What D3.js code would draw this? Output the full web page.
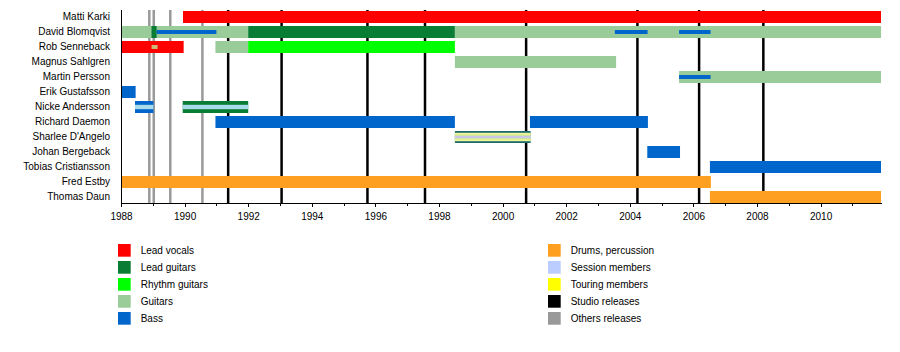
<!DOCTYPE html>
<html>
<head>
<meta charset="utf-8">
<script src="https://cdn.jsdelivr.net/npm/d3@7/dist/d3.min.js"></script>
<style>
  html, body { margin: 0; padding: 0; background: #fff; }
  svg { display: block; font-family: "Liberation Sans", Arial, sans-serif; }
  .axis text { font-size: 10px; fill: #000; }
  .axis path, .axis line { stroke: #000; shape-rendering: crispEdges; }
  .legend text { font-size: 10px; fill: #000; }
</style>
</head>
<body>
<svg id="chart" width="900" height="352"></svg>
<script>
// ---------- DATA ----------
const members = ["Matti Karki", "David Blomqvist", "Rob Senneback", "Magnus Sahlgren",
  "Martin Persson", "Erik Gustafsson", "Nicke Andersson", "Richard Daemon",
  "Sharlee D'Angelo", "Johan Bergeback", "Tobias Cristiansson", "Fred Estby", "Thomas Daun"];

const yearStart = 1988;
const yearEnd = 2011.9;
const tickYears = [1988, 1990, 1992, 1994, 1996, 1998, 2000, 2002, 2004, 2006, 2008, 2010];

const studioReleases = [1991.37, 1993.05, 1995.75, 1997.56, 2000.74, 2004.24, 2006.18, 2008.2];
const otherReleases = [1988.89, 1989.03, 1989.55, 1990.56];

// main roles: [member, start, end, role]
const mainPeriods = [
  ["Matti Karki", 1989.95, yearEnd, "vocals"],
  ["David Blomqvist", 1988, 1992, "guitars"],
  ["David Blomqvist", 1988.96, 1989.12, "lead"],
  ["David Blomqvist", 1992, 1998.5, "lead"],
  ["David Blomqvist", 1998.5, yearEnd, "guitars"],
  ["Rob Senneback", 1988, 1989.97, "vocals"],
  ["Rob Senneback", 1990.97, 1992, "guitars"],
  ["Rob Senneback", 1992, 1998.5, "rhythm"],
  ["Magnus Sahlgren", 1998.5, 2003.57, "guitars"],
  ["Martin Persson", 2005.55, yearEnd, "guitars"],
  ["Erik Gustafsson", 1988, 1988.46, "bass"],
  ["Nicke Andersson", 1988.44, 1989.02, "bass"],
  ["Nicke Andersson", 1989.94, 1992, "lead"],
  ["Richard Daemon", 1990.97, 1998.5, "bass"],
  ["Richard Daemon", 2000.86, 2004.57, "bass"],
  ["Sharlee D'Angelo", 1998.5, 2000.88, "bassTouring"],
  ["Johan Bergeback", 2004.55, 2005.58, "bass"],
  ["Tobias Cristiansson", 2006.52, yearEnd, "bass"],
  ["Fred Estby", 1988, 2006.55, "drums"],
  ["Thomas Daun", 2006.52, yearEnd, "drums"]
];

// secondary roles (thin bars): [member, start, end, role]
const secondaryPeriods = [
  ["David Blomqvist", 1989.12, 1991.0, "bass"],
  ["David Blomqvist", 2003.53, 2004.56, "bass"],
  ["David Blomqvist", 2005.55, 2006.54, "bass"],
  ["Rob Senneback", 1988.96, 1989.15, "guitarsMinor"],
  ["Martin Persson", 2005.55, 2006.54, "bass"]
];

// session / touring stripes: [member, start, end, kind]
const stripePeriods = [
  ["Nicke Andersson", 1988.44, 1989.02, "session"],
  ["Nicke Andersson", 1989.94, 1992, "session"],
  ["Sharlee D'Angelo", 1998.5, 2000.88, "touringSession"]
];

const legendLeft = [["Lead vocals", "vocals"], ["Lead guitars", "lead"], ["Rhythm guitars", "rhythm"], ["Guitars", "guitars"], ["Bass", "bass"]];
const legendRight = [["Drums, percussion", "drums"], ["Session members", "session"], ["Touring members", "touring"], ["Studio releases", "studio"], ["Others releases", "other"]];

// ---------- STYLE ----------
const colors = {
  vocals: "#ff0000", lead: "#0a7d35", rhythm: "#00ff00", guitars: "#99cc99",
  bass: "#0066cc", drums: "#ff9f22", session: "#bbccff", touring: "#ffff00",
  studio: "#000000", other: "#999999", guitarsMinor: "#ccb87a",
  bassTouring: "#1f6b6b"
};

const svg = d3.select("#chart");
const x = d3.scaleLinear().domain([yearStart, yearEnd]).range([121, 881]);
const y = d3.scaleBand().domain(members).range([9.5, 204.5]);
const step = y.step();
const barH = step * 0.8;
const barOff = step * 0.1;
const axisY = 203;

// release lines (behind bars)
svg.append("g").selectAll("line.other").data(otherReleases).join("line")
  .attr("x1", d => x(d)).attr("x2", d => x(d))
  .attr("y1", 10).attr("y2", axisY)
  .attr("stroke", colors.other).attr("stroke-width", 2.5);
svg.append("g").selectAll("line.studio").data(studioReleases).join("line")
  .attr("x1", d => x(d)).attr("x2", d => x(d))
  .attr("y1", 10).attr("y2", axisY)
  .attr("stroke", colors.studio).attr("stroke-width", 2.5);

// main bars
svg.append("g").selectAll("rect").data(mainPeriods).join("rect")
  .attr("x", d => x(d[1]))
  .attr("width", d => x(d[2]) - x(d[1]))
  .attr("y", d => y(d[0]) + barOff)
  .attr("height", barH)
  .attr("fill", d => colors[d[3]]);

// secondary thin bars
const thinH = barH / 3;
svg.append("g").selectAll("rect").data(secondaryPeriods).join("rect")
  .attr("x", d => x(d[1]))
  .attr("width", d => x(d[2]) - x(d[1]))
  .attr("y", d => y(d[0]) + step / 2 - thinH / 2)
  .attr("height", thinH)
  .attr("fill", d => colors[d[3]]);

// stripes
const stripeG = svg.append("g");
stripePeriods.forEach(d => {
  const x0 = x(d[1]), w = x(d[2]) - x(d[1]);
  const cy = y(d[0]) + step / 2;
  if (d[3] === "session") {
    stripeG.append("rect").attr("x", x0).attr("width", w)
      .attr("y", cy - 2.2).attr("height", 4.4).attr("fill", "#a9dcea");
  } else {
    stripeG.append("rect").attr("x", x0).attr("width", w)
      .attr("y", cy - 4.2).attr("height", 8.4).attr("fill", "#eef6a0");
    stripeG.append("rect").attr("x", x0).attr("width", w)
      .attr("y", cy - 2.6).attr("height", 5.2).attr("fill", "#d6ee86");
    stripeG.append("rect").attr("x", x0).attr("width", w)
      .attr("y", cy - 1.3).attr("height", 2.6).attr("fill", "#c9c6ea");
  }
});

// axes
const xMajor = d3.axisBottom(x).tickValues(tickYears).tickFormat(d3.format("d"))
  .tickSize(4).tickSizeOuter(0).tickPadding(6);
svg.append("g").attr("class", "axis").attr("transform", `translate(0,${axisY})`).call(xMajor);
const minorYears = d3.range(1989, 2012, 2);
svg.append("g").attr("class", "axis").attr("transform", `translate(0,${axisY})`)
  .call(d3.axisBottom(x).tickValues(minorYears).tickFormat("").tickSize(3).tickSizeOuter(0))
  .call(g => g.select(".domain").remove());

const yAxis = d3.axisLeft(y).tickSize(0).tickPadding(11);
svg.append("g").attr("class", "axis").attr("transform", `translate(121,0)`).call(yAxis)
  .call(g => g.select(".domain").attr("d", `M0,10V${axisY}`));

// legend
function drawLegend(items, x0) {
  const g = svg.append("g").attr("class", "legend");
  items.forEach((it, i) => {
    const yy = 244 + i * 17;
    g.append("rect").attr("x", x0).attr("y", yy).attr("width", 12.7).attr("height", 12.7)
      .attr("fill", colors[it[1]]);
    g.append("text").attr("x", x0 + 22.7).attr("y", yy + 6.4).attr("dy", "0.35em").text(it[0]);
  });
}
drawLegend(legendLeft, 118);
drawLegend(legendRight, 548);
</script>
</body>
</html>
